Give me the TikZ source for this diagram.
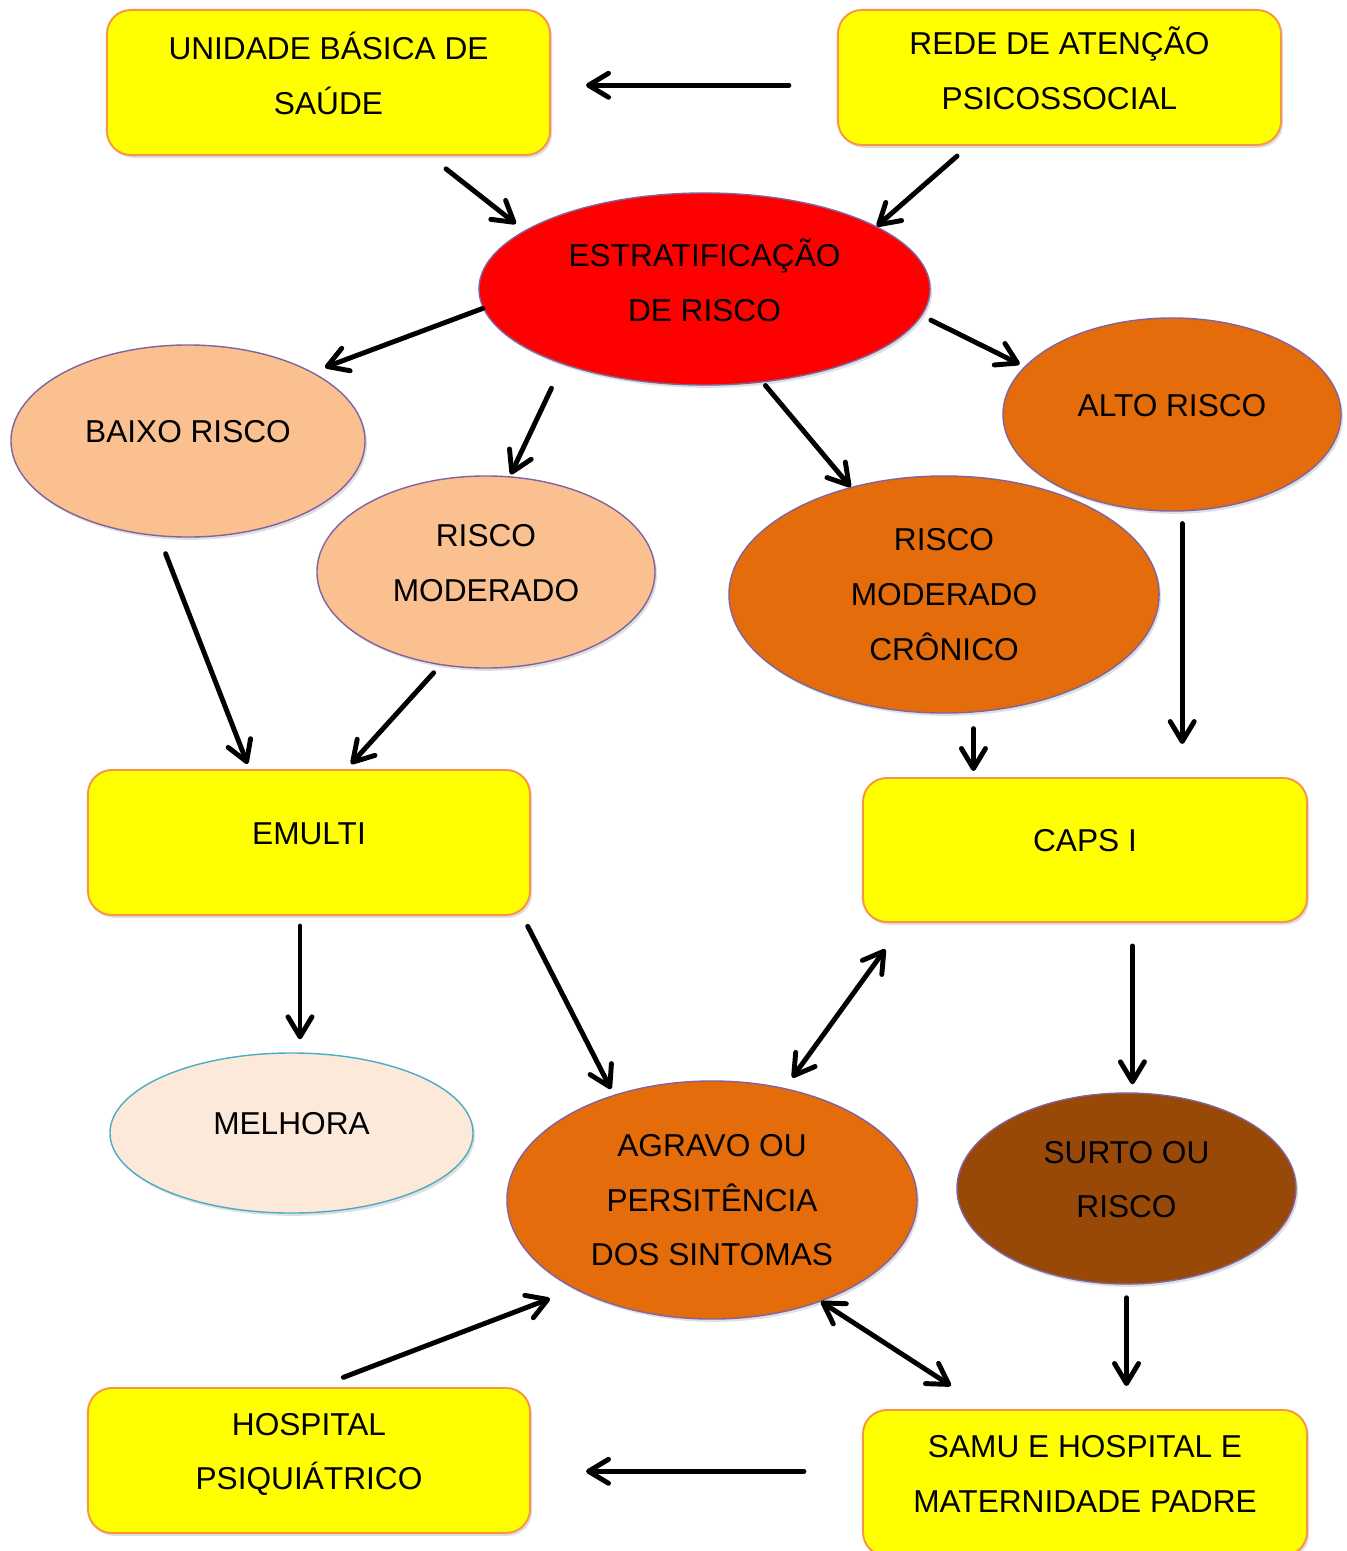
\documentclass[tikz,border=0pt]{standalone}
\usepackage{fontspec}
\setmainfont{Liberation Sans}
\usetikzlibrary{shapes.geometric}
\usetikzlibrary{arrows.meta}
\usetikzlibrary{shadows}
\definecolor{amarelo}{HTML}{FFFF00}
\definecolor{bordacaixa}{HTML}{F79646}
\definecolor{bordaelipse}{HTML}{8064A2}
\definecolor{vermelho}{HTML}{FF0000}
\definecolor{laranjaclaro}{HTML}{FAC090}
\definecolor{laranja}{HTML}{E46C0A}
\definecolor{marrom}{HTML}{984807}
\definecolor{pessego}{HTML}{FDE9D9}
\definecolor{bordamelhora}{HTML}{4BACC6}
\tikzset{x=0.025cm, y=-0.025cm, % one unit = one pixel of the layout
    every node/.style=
    { % Sets the text of every node
        font=\fontsize{22.5}{39}\selectfont,
        align=center,
        text depth=13pt
    },
    sombra/.style={drop shadow={shadow xshift=0.05cm, shadow yshift=-0.07cm, opacity=0.25}},
    caixa/.style={ % Yellow boxes
        rectangle,
        rounded corners=0.6cm,
        draw=bordacaixa,
        line width=1.4pt,
        fill=amarelo,
        sombra,
        inner sep=0pt,
        minimum width=11.05cm,
        minimum height=3.625cm
    },
    elipse/.style={ % Risk ellipses
        ellipse,
        draw=bordaelipse,
        line width=1pt,
        sombra,
        inner sep=0pt
    },
    >={Straight Barb[length=0.5cm, width=0.6cm, round]}, % open arrow heads
    seta/.style={->, line width=3.5pt, line cap=round},
    setadupla/.style={<->, line width=3.5pt, line cap=round}
}

\begin{document}
\begin{tikzpicture}
    \useasboundingbox (0,0) rectangle (1347,1551);

    \node[caixa, minimum width=11.075cm] (ubs) at (328.5,82.5) {UNIDADE BÁSICA DE\\SAÚDE};
    \node[caixa, minimum width=11.075cm, minimum height=3.375cm] (raps) at (1059.5,77.5) {REDE DE ATENÇÃO\\PSICOSSOCIAL};
    \node[elipse, fill=vermelho, minimum width=11.275cm, minimum height=4.8cm] (estr) at (704.5,289) {ESTRATIFICAÇÃO\\DE RISCO};
    \node[elipse, fill=laranjaclaro, minimum width=8.85cm, minimum height=4.8cm] (baixo) at (188,441) {BAIXO RISCO};
    \node[elipse, fill=laranjaclaro, minimum width=8.45cm, minimum height=4.8cm] (mod) at (486,572) {RISCO\\MODERADO};
    \node[elipse, fill=laranja, minimum width=8.45cm, minimum height=4.825cm] (alto) at (1172,414.5) {ALTO RISCO};
    \node[elipse, fill=laranja, text depth=0pt, minimum width=10.75cm, minimum height=5.925cm] (cron) at (944,594.5) {RISCO\\MODERADO\\CRÔNICO};
    \node[caixa] (emulti) at (309,842.5) {EMULTI};
    \node[caixa, minimum width=11.1cm, minimum height=3.6cm] (caps) at (1085,850) {CAPS I};
    \node[elipse, draw=bordamelhora, fill=pessego, minimum width=9.075cm, minimum height=4cm] (melhora) at (291.5,1133) {MELHORA};
    \node[elipse, fill=laranja, text depth=0pt, minimum width=10.25cm, minimum height=5.95cm] (agravo) at (712,1200) {AGRAVO OU\\PERSITÊNCIA\\DOS SINTOMAS};
    \node[elipse, fill=marrom, minimum width=8.475cm, minimum height=4.775cm] (surto) at (1126.5,1188.5) {SURTO OU\\RISCO};
    \node[caixa] (hosp) at (309,1460.5) {HOSPITAL\\PSIQUIÁTRICO};
    \node[caixa, minimum width=11.1cm, minimum height=3.65cm] (samu) at (1085,1483) {SAMU E HOSPITAL E\\MATERNIDADE PADRE};

    % top row
    \draw[seta, shorten <=1.2cm, shorten >=0.875cm] (raps.-178) -- (raps.-178 -| ubs.east);
    \draw[seta, shorten <=0.52cm, shorten >=0.27cm] (ubs.-36.5) -- (estr.162.4);
    \draw[seta, shorten <=0.385cm] (raps.-143.4) -- (estr.20.5);
    % risk levels
    \draw[seta, shorten >=0.33cm] (estr.-175.2) -- (baixo.29.5);
    \draw[seta, shorten <=0.66cm, shorten >=0.05cm] (estr.-152.8) -- (mod.76.3);
    \draw[seta, shorten <=0.1cm] (estr.-58) -- (cron.131.8);
    \draw[seta, shorten <=0.25cm, shorten >=0.13cm] (estr.-7) -- (alto.162.2);
    \draw[seta, shorten <=0.465cm, shorten >=0.135cm] (baixo.-107.5) -- (emulti.129.1);
    \draw[seta, shorten <=0.255cm, shorten >=0.17cm] (mod.-116.6) -- (emulti.63.3);
    \draw[seta, shorten <=0.4cm, shorten >=0.15cm] (cron.-76.6) -- (cron.-76.6 |- caps.north);
    \draw[seta, shorten <=0.3cm, shorten >=0.825cm] (alto.-84) -- (alto.-84 |- caps.north);
    % outcomes
    \draw[seta, shorten <=0.25cm, shorten >=0.325cm] (emulti.-97) -- (emulti.-97 |- melhora.north);
    \draw[seta, shorten <=0.29cm, shorten >=0.16cm] (emulti.-19.7) -- (agravo.133.5);
    \draw[setadupla, shorten <=0.32cm, shorten >=0.81cm] (agravo.57.8) -- (caps.-158);
    \draw[seta, shorten <=0.575cm, shorten >=0.2cm] (caps.-57.4) -- (caps.-57.4 |- surto.north);
    \draw[seta, shorten <=0.325cm, shorten >=0.575cm] (surto.south) -- (surto.south |- samu.north);
    \draw[seta, shorten <=0.68cm, shorten >=0.66cm] (hosp.83.2) -- (agravo.-147.9);
    \draw[setadupla, shorten >=1.07cm] (agravo.-43.9) -- (samu.143.2);
    \draw[seta, shorten <=1.45cm, shorten >=1.375cm] (samu.177.2) -- (samu.177.2 -| hosp.east);
\end{tikzpicture}
\end{document}
